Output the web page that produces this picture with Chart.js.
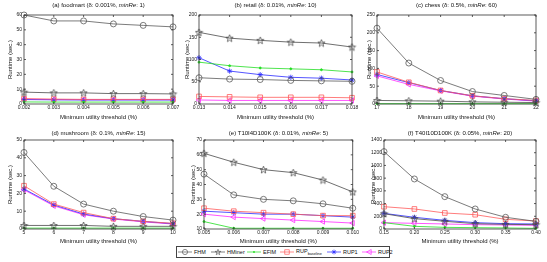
<!DOCTYPE html>
<html>
<head>
<meta charset="utf-8">
<script src="https://cdn.jsdelivr.net/npm/chart.js@4.4.1/dist/chart.umd.min.js"></script>
<style>
  body { margin: 0; background: #fff; width: 547px; height: 262px; overflow: hidden; position: relative; font-family: "Liberation Sans", Arial, sans-serif; }
  canvas { position: absolute; }
  .ttl { position: absolute; font-size: 6px; color: #111; white-space: nowrap; transform: translate(-50%, -50%); }
  #legend { position: absolute; left: 176px; top: 246px; width: 214px; height: 12px; border: 1px solid #444; box-sizing: border-box; font-size: 5.5px; color: #111; }
  #legend .item { position: absolute; top: 0; height: 10px; display: flex; align-items: center; white-space: nowrap; }
  #legend svg { margin-right: 2px; }
  #legend sub { font-size: 3.8px; vertical-align: -1.5px; }
</style>
</head>
<body>
<div id="legend"></div>
<script>
const seriesNames = ['FHM', 'HMiner', 'EFIM', 'RUP_baseline', 'RUP1', 'RUP2'];

// (a) foodmart
const foodmartX = ['0.002', '0.003', '0.004', '0.005', '0.006', '0.007'];
const foodmartFHM = [60, 56, 56, 54, 53, 52];
const foodmartHMiner = [8, 7.5, 7.5, 7, 7, 6.8];
const foodmartEFIM = [1.4, 1.3, 1.3, 1.3, 1.3, 1.3];
const foodmartBase = [3.6, 3.3, 3.1, 3.1, 3.1, 3.1];
const foodmartRUP1 = [3, 2.8, 2.7, 2.7, 2.7, 2.7];
const foodmartRUP2 = [3.3, 3, 2.9, 2.9, 2.9, 2.9];

// (b) retail
const retailX = ['0.013', '0.014', '0.015', '0.016', '0.017', '0.018'];
const retailFHM = [59, 56, 55, 53, 52, 51];
const retailHMiner = [161, 148, 143, 139, 137, 128];
const retailEFIM = [94, 86, 81, 79, 77, 72];
const retailBase = [17, 16, 15, 15, 15, 14];
const retailRUP1 = [104, 74, 66, 60, 58, 54];
const retailRUP2 = [9, 8, 8, 8, 8, 8];

// (c) chess
const chessX = ['17', '18', '19', '20', '21', '22'];
const chessFHM = [213, 115, 66, 35, 24, 13];
const chessHMiner = [10, 9, 8, 6, 5, 4];
const chessEFIM = [1, 1, 1, 1, 1, 1];
const chessBase = [90, 61, 38, 23, 15, 10];
const chessRUP1 = [83, 60, 38, 23, 15, 9];
const chessRUP2 = [79, 55, 37, 22, 14, 8];

// (d) mushroom
const mushroomX = ['5', '6', '7', '8', '9', '10'];
const mushroomFHM = [43, 24, 14, 10, 7, 5];
const mushroomHMiner = [2, 2, 2, 1.5, 1.5, 1.5];
const mushroomEFIM = [0.5, 0.5, 0.5, 0.5, 0.5, 0.5];
const mushroomBase = [24.3, 14, 9.2, 5.8, 4.3, 3.2];
const mushroomRUP1 = [22.5, 13.5, 8.4, 5.8, 4.3, 3];
const mushroomRUP2 = [22, 13, 8, 5.6, 4, 2.8];

// (e) T10I4D100K
const t10X = ['0.005', '0.006', '0.007', '0.008', '0.009', '0.010'];
const t10FHM = [47, 33, 30, 29, 27, 24];
const t10HMiner = [61, 55, 50, 48, 43, 35];
const t10EFIM = [15, 10.5, 10.5, 10.5, 10.5, 10.5];
const t10Base = [24, 22, 21, 20, 19, 19];
const t10RUP1 = [22, 21, 20, 20, 19, 18];
const t10RUP2 = [20, 18, 17, 16, 15, 14];

// (f) T40I10D100K
const t40X = ['0.15', '0.20', '0.25', '0.30', '0.35', '0.40'];
const t40FHM = [1217, 787, 509, 315, 184, 120];
const t40HMiner = [241, 163, 121, 84, 73, 68];
const t40EFIM = [100, 42, 26, 21, 16, 10];
const t40Base = [351, 315, 252, 225, 152, 126];
const t40RUP1 = [246, 184, 136, 100, 84, 79];
const t40RUP2 = [100, 89, 79, 68, 63, 58];

// pentagram marker like matlab 'p'
function pentagram(color) {
  const c = document.createElement('canvas');
  c.width = 9; c.height = 9;
  const g = c.getContext('2d');
  g.strokeStyle = color; g.lineWidth = 0.8;
  g.beginPath();
  for (let i = 0; i < 10; i++) {
    const r = i % 2 ? 1.6 : 3.8;
    const a = -Math.PI / 2 + i * Math.PI / 5;
    const x = 4.5 + r * Math.cos(a), y = 4.8 + r * Math.sin(a);
    i ? g.lineTo(x, y) : g.moveTo(x, y);
  }
  g.closePath();
  g.stroke();
  return c;
}

const styles = {
  FHM: { color: '#5a5a5a', pointStyle: 'circle', radius: 3, fill: false },
  HMiner: { color: '#4a4a4a', pointStyle: pentagram('#4a4a4a'), radius: 4, fill: false },
  EFIM: { color: '#22dd22', pointStyle: 'circle', radius: 1, fill: true },
  RUP_baseline: { color: '#ff5a5a', pointStyle: 'rect', radius: 3.3, fill: false },
  RUP1: { color: '#2a2aff', pointStyle: 'star', radius: 2.6, fill: false },
  RUP2: { color: '#ff2aff', pointStyle: 'triangle', radius: 3, fill: false, rotation: -90 }
};

const boxPlugin = {
  id: 'box',
  afterDatasetsDraw(chart) {
    const { ctx, chartArea: a, scales } = chart;
    ctx.save();
    ctx.strokeStyle = '#333';
    ctx.lineWidth = 0.8;
    ctx.strokeRect(a.left, a.top, a.right - a.left, a.bottom - a.top);
    ctx.beginPath();
    scales.x.ticks.forEach((t, i) => {
      const px = scales.x.getPixelForTick(i);
      ctx.moveTo(px, a.bottom); ctx.lineTo(px, a.bottom - 2);
      ctx.moveTo(px, a.top); ctx.lineTo(px, a.top + 2);
    });
    scales.y.ticks.forEach((t, i) => {
      const py = scales.y.getPixelForTick(i);
      ctx.moveTo(a.left, py); ctx.lineTo(a.left + 2, py);
      ctx.moveTo(a.right, py); ctx.lineTo(a.right - 2, py);
    });
    ctx.stroke();
    ctx.restore();
  }
};

function makeDataset(name, values) {
  const s = styles[name];
  return {
    label: name,
    data: values,
    borderColor: s.color,
    borderWidth: 0.8,
    pointStyle: s.pointStyle,
    pointRadius: s.radius,
    pointRotation: s.rotation || 0,
    pointBorderColor: s.color,
    pointBorderWidth: 0.8,
    pointBackgroundColor: s.fill ? s.color : 'rgba(0,0,0,0)',
    tension: 0,
    clip: 6
  };
}

const fontFamily = '"Liberation Sans", Arial, sans-serif';

function makePanel(p) {
  const cv = document.createElement('canvas');
  cv.width = p.w; cv.height = p.h;
  cv.style.left = p.left + 'px';
  cv.style.top = p.top + 'px';
  document.body.appendChild(cv);

  const t = document.createElement('div');
  t.className = 'ttl';
  t.innerHTML = p.title;
  t.style.left = (p.plotL + p.plotR) / 2 + 'px';
  t.style.top = p.titleY + 'px';
  document.body.appendChild(t);

  new Chart(cv, {
    type: 'line',
    data: {
      labels: p.x,
      datasets: seriesNames.map((n, i) => makeDataset(n, p.values[i]))
    },
    options: {
      responsive: false,
      animation: false,
      layout: { padding: { top: p.plotT - p.top, right: p.left + p.w - p.plotR, bottom: 1, left: 0 } },
      plugins: { legend: { display: false }, tooltip: { enabled: false } },
      scales: {
        x: {
          grid: { display: false, drawTicks: false },
          border: { display: false },
          ticks: { font: { size: 5, family: fontFamily }, color: '#222', padding: 1, maxRotation: 0, autoSkip: false },
          title: { display: true, text: 'Minimum utility threshold (%)', color: '#111', font: { size: 6, family: fontFamily }, padding: { top: 0, bottom: 0 } },
          afterFit: s => { s.height = p.h - 1 - (p.plotB - p.top); }
        },
        y: {
          min: p.yMin, max: p.yMax,
          grid: { display: false, drawTicks: false },
          border: { display: false },
          ticks: { stepSize: p.yStep, font: { size: 5, family: fontFamily }, color: '#222', padding: 2, callback: v => String(v) },
          title: { display: true, text: 'Runtime (sec.)', color: '#111', font: { size: 6, family: fontFamily }, padding: { top: p.yTitleX - p.left - 3.6, bottom: 0 } },
          afterFit: s => { s.width = p.plotL - p.left; }
        }
      }
    },
    plugins: [boxPlugin]
  });
}

makePanel({ left: 0, top: 0, w: 182, h: 122, plotL: 24, plotR: 173, plotT: 15, plotB: 104, titleY: 5, yTitleX: 10,
  title: '(a) foodmart (δ: 0.001%, <i>minRe</i>: 1)', x: foodmartX, yMin: 0, yMax: 60, yStep: 10,
  values: [foodmartFHM, foodmartHMiner, foodmartEFIM, foodmartBase, foodmartRUP1, foodmartRUP2] });
makePanel({ left: 178, top: 0, w: 182, h: 122, plotL: 199, plotR: 352, plotT: 15, plotB: 104, titleY: 5, yTitleX: 187,
  title: '(b) retail (δ: 0.01%, <i>minRe</i>: 10)', x: retailX, yMin: 0, yMax: 200, yStep: 50,
  values: [retailFHM, retailHMiner, retailEFIM, retailBase, retailRUP1, retailRUP2] });
makePanel({ left: 358, top: 0, w: 189, h: 122, plotL: 377, plotR: 536, plotT: 15, plotB: 104, titleY: 5, yTitleX: 369,
  title: '(c) chess (δ: 0.5%, <i>minRe</i>: 60)', x: chessX, yMin: 0, yMax: 250, yStep: 50,
  values: [chessFHM, chessHMiner, chessEFIM, chessBase, chessRUP1, chessRUP2] });
makePanel({ left: 0, top: 124, w: 182, h: 122, plotL: 24, plotR: 173, plotT: 140, plotB: 229, titleY: 133, yTitleX: 10,
  title: '(d) mushroom (δ: 0.1%, <i>minRe</i>: 15)', x: mushroomX, yMin: 0, yMax: 50, yStep: 10,
  values: [mushroomFHM, mushroomHMiner, mushroomEFIM, mushroomBase, mushroomRUP1, mushroomRUP2] });
makePanel({ left: 178, top: 124, w: 182, h: 122, plotL: 204, plotR: 353, plotT: 140, plotB: 229, titleY: 133, yTitleX: 193,
  title: '(e) T10I4D100K (δ: 0.01%, <i>minRe</i>: 5)', x: t10X, yMin: 10, yMax: 70, yStep: 10,
  values: [t10FHM, t10HMiner, t10EFIM, t10Base, t10RUP1, t10RUP2] });
makePanel({ left: 358, top: 124, w: 189, h: 122, plotL: 384, plotR: 536, plotT: 140, plotB: 229, titleY: 133, yTitleX: 373,
  title: '(f) T40I10D100K (δ: 0.05%, <i>minRe</i>: 20)', x: t40X, yMin: 0, yMax: 1400, yStep: 200,
  values: [t40FHM, t40HMiner, t40EFIM, t40Base, t40RUP1, t40RUP2] });

// legend (line + marker samples)
function markerSvg(name) {
  const c = styles[name].color;
  let m = '';
  if (name === 'FHM') m = `<circle cx="7" cy="4" r="2.6" fill="none" stroke="${c}" stroke-width="0.7"/>`;
  if (name === 'HMiner') {
    const pts = [];
    for (let i = 0; i < 10; i++) {
      const r = i % 2 ? 1.2 : 3, a = -Math.PI / 2 + i * Math.PI / 5;
      pts.push((7 + r * Math.cos(a)).toFixed(2) + ',' + (4.3 + r * Math.sin(a)).toFixed(2));
    }
    m = `<polygon points="${pts.join(' ')}" fill="none" stroke="${c}" stroke-width="0.6"/>`;
  }
  if (name === 'EFIM') m = `<circle cx="7" cy="4" r="0.9" fill="${c}"/>`;
  if (name === 'RUP_baseline') m = `<rect x="4.8" y="1.8" width="4.4" height="4.4" fill="none" stroke="${c}" stroke-width="0.7"/>`;
  if (name === 'RUP1') m = `<path d="M4.6 4H9.4M7 1.6V6.4M5.3 2.3L8.7 5.7M8.7 2.3L5.3 5.7" stroke="${c}" stroke-width="0.7"/>`;
  if (name === 'RUP2') m = `<polygon points="4.5,4 9.2,1.5 9.2,6.5" fill="none" stroke="${c}" stroke-width="0.7"/>`;
  return `<svg width="14" height="8" viewBox="0 0 14 8"><line x1="0" y1="4" x2="14" y2="4" stroke="${c}" stroke-width="0.7"/>${m}</svg>`;
}
const legendLeft = [1, 34, 70, 103, 150, 185];
const legend = document.getElementById('legend');
seriesNames.forEach((n, i) => {
  const d = document.createElement('div');
  d.className = 'item';
  d.style.left = legendLeft[i] + 'px';
  const label = n === 'RUP_baseline' ? 'RUP<sub>baseline</sub>' : n;
  d.innerHTML = markerSvg(n) + '<span>' + label + '</span>';
  legend.appendChild(d);
});
</script>
</body>
</html>
